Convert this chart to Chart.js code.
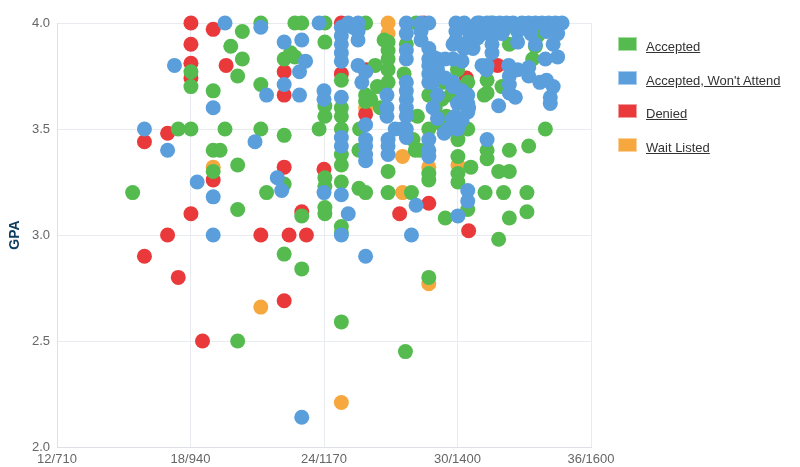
<!DOCTYPE html>
<html>
<head>
<meta charset="utf-8">
<script src="https://cdn.jsdelivr.net/npm/chart.js@4"></script>
<style>
  body { margin: 0; background: #fff; font-family: 'Liberation Sans', Arial, sans-serif; }
  #wrap { position: relative; width: 800px; height: 467px; }
  #my-chart { position: absolute; left: 0; top: 0; }
  .legend-item { position: absolute; left: 618px; height: 16px; }
  .legend-box { position: absolute; left: 0; top: 0; width: 17px; height: 12px; border: 1px solid #ccc; }
  .legend-text { position: absolute; left: 28px; top: 2px; font-size: 13px; line-height: 16px; color: #333; text-decoration: underline; white-space: nowrap; }
</style>
</head>
<body>
<div id="wrap">
  <canvas id="my-chart" width="800" height="467"></canvas>
  <div id="legend"></div>
</div>
<script>
'use strict';

// ******* GLOBALS *********
let xTicks = [12, 18, 24, 30, 36];
let xTickLabels = ['12/710', '18/940', '24/1170', '30/1400', '36/1600'];
let yTicks = [2.0, 2.5, 3.0, 3.5, 4.0];

let seriesNames = ['Accepted', 'Accepted, Won\'t Attend', 'Denied', 'Wait Listed'];
let seriesColors = ['#55bb4f', '#5a9fdb', '#ea393b', '#f6a83f'];
let seriesBorders = ['#a8dca4', '#a9cdef', '#f29c9d', '#fbd39f'];
// lower = drawn on top (blue over green over red over orange)
let seriesOrder = [1, 0, 2, 3];

// [ACT, GPA]
let acceptedPts = [
  [15.4, 3.2],
  [17.45, 3.5], [18.02, 3.5], [18.02, 3.77], [18.02, 3.7],
  [19.02, 3.68], [19.02, 3.4], [19.33, 3.4], [19.02, 3.3], [19.55, 3.5],
  [19.81, 3.89], [20.33, 3.96], [20.33, 3.83], [20.12, 3.75], [20.12, 3.33], [20.12, 3.12], [20.12, 2.5],
  [21.16, 4.0], [21.16, 3.71], [21.16, 3.5], [21.42, 3.2],
  [22.21, 3.47], [22.21, 2.91], [22.21, 3.24], [22.21, 3.83],
  [23.0, 2.84], [23.0, 3.09], [24.78, 2.59], [27.66, 2.45], [28.71, 2.8], [24.78, 3.04], [31.85, 2.98],
  [22.69, 4.0], [23.0, 4.0], [24.04, 4.0], [22.69, 3.84], [22.5, 3.86], [24.04, 3.91],
  [23.78, 3.5], [24.78, 3.5], [24.78, 3.38], [24.78, 3.73], [24.78, 3.56], [24.78, 3.6], [24.78, 3.33], [24.78, 3.25], [24.78, 3.01],
  [24.04, 3.61], [24.04, 3.56], [24.04, 3.27], [24.04, 3.23], [24.04, 3.13], [24.04, 3.1],
  [25.57, 3.4], [25.57, 3.22], [25.87, 3.2], [25.87, 4.0], [25.87, 3.66], [26.1, 3.64], [25.87, 3.63], [25.6, 3.5],
  [26.53, 3.6], [26.3, 3.8], [26.4, 3.7],
  [26.88, 3.91], [26.88, 3.87], [26.88, 3.83], [26.88, 3.78], [26.88, 3.72], [26.88, 3.2], [26.88, 3.3],
  [27.93, 3.2], [28.14, 4.0], [28.0, 3.45], [28.1, 3.4], [28.3, 3.4],
  [28.71, 3.66], [28.71, 3.5], [28.71, 3.29], [28.71, 3.26], [29.0, 3.6],
  [29.5, 3.56], [29.45, 3.08],
  [30.02, 3.45], [30.02, 3.37], [30.02, 3.29], [30.02, 3.25], [30.46, 3.5], [30.46, 3.12], [30.6, 3.32],
  [30.3, 3.7], [30.46, 3.72], [31.2, 3.66],
  [31.33, 3.4], [31.33, 3.36], [31.24, 3.2], [32.07, 3.2], [33.12, 3.2],
  [32.33, 3.4], [33.2, 3.42], [31.85, 3.3], [32.33, 3.3], [32.33, 3.08], [33.12, 3.11], [33.95, 3.5],
  [31.5, 4.0], [32.1, 3.97], [32.9, 3.98], [33.6, 3.97], [32.33, 3.9], [33.38, 3.83],
  [31.33, 3.73], [31.33, 3.67], [32.0, 3.7], [33.6, 3.94], [33.5, 3.89],
  [29.0, 3.75], [29.4, 3.72], [29.7, 3.66], [30.2, 3.64], [29.3, 3.64], [26.7, 3.92],
  [27.7, 3.9], [27.6, 3.76], [28.2, 3.56], [29.3, 3.52], [30.0, 3.78]
];

let wontAttendPts = [
  [15.93, 3.5], [16.97, 3.4], [17.28, 3.8], [19.02, 3.6], [19.55, 4.0], [21.16, 3.98], [21.42, 3.66],
  [22.21, 3.91], [22.21, 3.71], [20.9, 3.44], [18.3, 3.25], [19.02, 3.18], [19.02, 3.0], [21.9, 3.27], [22.1, 3.21],
  [23.0, 2.14], [24.78, 3.0], [25.09, 3.1], [25.87, 2.9], [27.93, 3.0], [28.14, 3.14], [30.02, 3.09], [30.46, 3.21], [30.46, 3.16],
  [23.78, 4.0], [23.17, 3.82], [22.9, 3.77], [22.9, 3.66], [23.0, 3.92],
  [24.0, 3.68], [24.0, 3.64], [24.0, 3.2],
  [24.78, 3.98], [24.78, 3.94], [24.78, 3.9], [24.78, 3.86], [24.78, 3.82], [24.78, 3.65], [24.78, 3.46], [24.78, 3.42], [24.78, 3.19],
  [25.09, 4.0], [25.3, 3.98], [25.53, 4.0], [25.53, 3.96], [25.53, 3.92],
  [25.53, 3.8], [25.87, 3.77], [25.7, 3.72], [25.87, 3.52], [25.87, 3.45], [25.87, 3.42], [25.87, 3.38], [25.87, 3.35],
  [26.83, 3.66], [26.83, 3.6], [26.83, 3.56], [26.88, 3.45], [26.88, 3.42], [26.88, 3.38],
  [27.2, 3.5], [27.5, 3.5],
  [27.7, 4.0], [27.7, 3.95], [27.7, 3.87], [27.7, 3.83], [27.7, 3.72], [27.7, 3.68], [27.7, 3.64], [27.7, 3.6], [27.7, 3.56], [27.7, 3.5], [27.7, 3.46],
  [28.36, 4.0], [28.36, 3.96], [28.36, 3.92], [28.71, 4.0], [28.71, 3.88], [28.71, 3.83], [28.71, 3.8], [28.71, 3.76], [28.71, 3.72], [28.71, 3.45], [28.71, 3.4], [28.71, 3.37],
  [29.1, 3.83], [29.45, 3.83], [29.8, 3.83], [30.2, 3.82], [29.1, 3.78], [29.45, 3.74], [29.8, 3.7],
  [29.93, 4.0], [29.93, 3.96], [29.93, 3.92], [30.3, 4.0], [30.46, 3.91], [30.89, 4.0],
  [30.46, 3.66], [30.46, 3.62], [30.46, 3.58], [30.2, 3.54], [30.0, 3.5], [29.8, 3.55], [29.6, 3.5], [29.4, 3.48], [31.33, 3.45],
  [31.0, 4.0], [31.33, 4.0], [31.6, 4.0], [31.9, 4.0], [32.2, 4.0], [32.5, 4.0], [32.9, 4.0], [33.2, 4.0], [33.5, 4.0], [33.8, 4.0], [34.1, 4.0], [34.4, 4.0], [34.7, 4.0],
  [31.1, 3.95], [31.55, 3.94], [32.0, 3.95], [32.7, 3.96], [33.3, 3.95], [34.0, 3.96], [34.5, 3.95],
  [31.55, 3.9], [32.7, 3.91], [33.5, 3.9], [34.3, 3.9], [31.55, 3.86],
  [31.33, 3.8], [32.3, 3.8], [32.7, 3.78], [33.2, 3.79], [33.95, 3.83], [34.5, 3.84],
  [32.33, 3.75], [32.33, 3.71], [33.2, 3.75], [33.7, 3.72], [34.0, 3.73],
  [32.33, 3.67], [31.85, 3.61], [34.17, 3.65], [34.17, 3.62], [31.1, 3.8], [31.3, 3.78], [32.6, 3.65], [34.3, 3.7],
  [28.9, 3.84], [29.0, 3.78], [28.9, 3.72], [29.1, 3.66], [28.9, 3.6], [29.1, 3.55],
  [30.1, 3.98], [30.5, 3.96], [30.9, 3.93], [29.8, 3.9], [30.3, 3.88], [30.7, 3.88],
  [29.8, 3.72], [30.2, 3.68], [30.0, 3.62], [30.5, 3.6], [29.9, 3.56]
];

let deniedPts = [
  [18.02, 4.0], [18.02, 3.9], [18.02, 3.81], [18.02, 3.74], [19.02, 3.97], [19.6, 3.8], [16.97, 3.48], [15.93, 3.44],
  [19.02, 3.26], [18.02, 3.1], [16.97, 3.0], [15.93, 2.9], [17.45, 2.8], [18.54, 2.5],
  [21.16, 3.0], [22.43, 3.0], [23.21, 3.0], [22.21, 3.77], [22.21, 3.66], [22.21, 3.32], [22.21, 2.69], [24.0, 3.31], [23.0, 3.11],
  [24.78, 4.0], [24.78, 3.76], [25.9, 3.78], [25.87, 3.57], [28.5, 4.0], [31.8, 3.8], [30.4, 3.74], [28.71, 3.15], [27.4, 3.1], [30.5, 3.02]
];

let waitListedPts = [
  [19.02, 3.32], [21.16, 2.66], [24.78, 2.21], [28.71, 2.77], [26.88, 4.0], [26.88, 3.95],
  [25.87, 3.6], [27.53, 3.37], [27.53, 3.2], [28.71, 3.32], [30.02, 3.33]
];

let allSeries = [acceptedPts, wontAttendPts, deniedPts, waitListedPts];

// ******* DOM WINDOWS ********
let ctx = document.getElementById('my-chart');
let legendEl = document.getElementById('legend');

// ****** HELPER FUNCTIONS ******
function toPoints(arr) {
  return arr.map(p => ({ x: p[0], y: p[1] }));
}

function renderLegend() {
  for (let i = 0; i < seriesNames.length; i++) {
    let item = document.createElement('div');
    item.className = 'legend-item';
    item.style.top = (37 + i * 33.5) + 'px';
    let box = document.createElement('div');
    box.className = 'legend-box';
    box.style.background = seriesColors[i];
    box.style.borderColor = seriesBorders[i];
    let txt = document.createElement('span');
    txt.className = 'legend-text';
    txt.textContent = seriesNames[i];
    item.appendChild(box);
    item.appendChild(txt);
    legendEl.appendChild(item);
  }
}

function renderChart() {
  Chart.defaults.font.family = "'Liberation Sans', Arial, sans-serif"; //eslint-disable-line

  let datasets = [];
  for (let i = 0; i < seriesNames.length; i++) {
    datasets.push({
      label: seriesNames[i],
      data: toPoints(allSeries[i]),
      backgroundColor: seriesColors[i],
      borderColor: seriesColors[i],
      borderWidth: 0,
      pointRadius: 7.5,
      pointHoverRadius: 7.5,
      order: seriesOrder[i],
      clip: false
    });
  }

  let chartObj = {
    type: 'scatter',
    data: { datasets: datasets },
    options: {
      responsive: false,
      animation: false,
      layout: { padding: { top: 23, right: 209, left: 0, bottom: 0 } },
      plugins: {
        legend: { display: false },
        tooltip: { enabled: false }
      },
      scales: {
        x: {
          type: 'linear',
          min: xTicks[0],
          max: xTicks[xTicks.length - 1],
          afterBuildTicks: (scale) => { scale.ticks = xTicks.map(v => ({ value: v })); },
          afterFit: (scale) => { scale.height = 20; },
          ticks: {
            padding: 5,
            color: '#666',
            font: { size: 13 },
            maxRotation: 0,
            callback: (v) => xTickLabels[xTicks.indexOf(v)]
          },
          grid: { color: '#e8ebf0', drawTicks: false },
          border: { color: '#dde1e7' }
        },
        y: {
          type: 'linear',
          min: yTicks[0],
          max: yTicks[yTicks.length - 1],
          afterBuildTicks: (scale) => { scale.ticks = yTicks.map(v => ({ value: v })); },
          afterFit: (scale) => { scale.width = 57; },
          ticks: {
            padding: 7,
            color: '#666',
            font: { size: 13 },
            callback: (v) => Number(v).toFixed(1)
          },
          grid: { color: '#e8ebf0', drawTicks: false },
          border: { color: '#dde1e7' },
          title: {
            display: true,
            text: 'GPA',
            color: '#0d3d5f',
            font: { size: 14, weight: 'bold' },
            padding: { top: 7, bottom: 0 }
          }
        }
      }
    }
  };

  new Chart(ctx, chartObj); //eslint-disable-line
}

// ***** EXECUTABLE CODE ******
renderLegend();
renderChart();
</script>
</body>
</html>
